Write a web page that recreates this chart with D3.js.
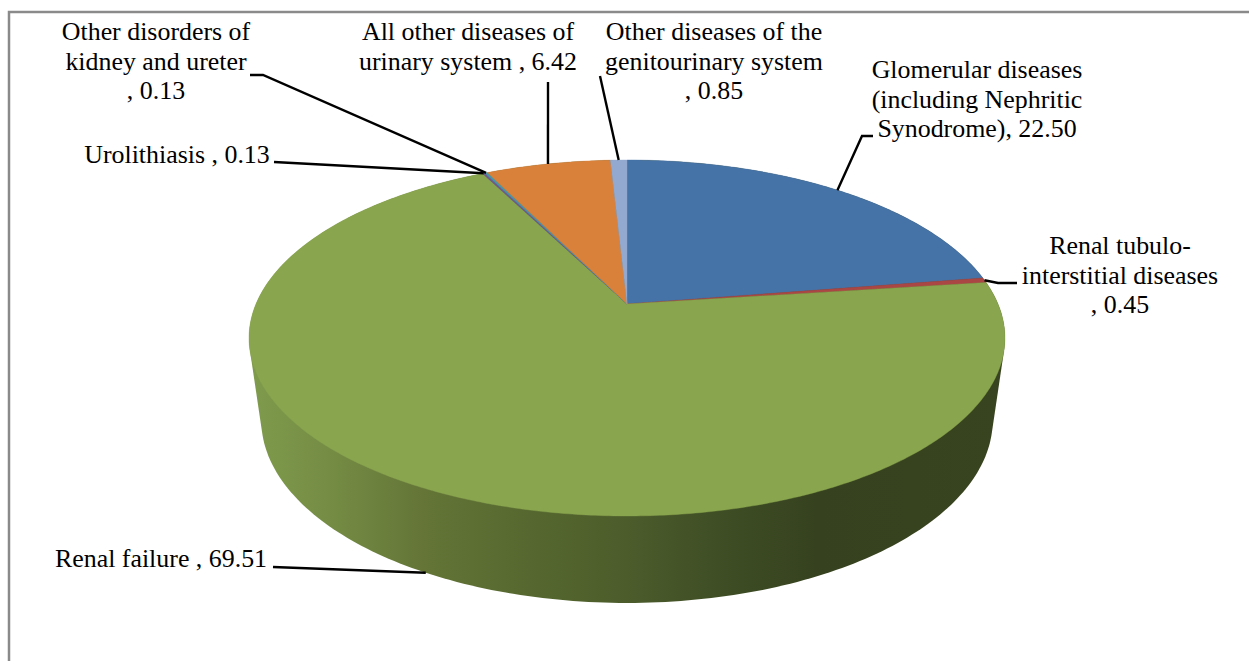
<!DOCTYPE html>
<html><head><meta charset="utf-8">
<script src="https://cdnjs.cloudflare.com/ajax/libs/d3/7.8.5/d3.min.js"></script>
<style>html,body{margin:0;padding:0;background:#fff}svg{display:block}
text{font-family:"Liberation Serif","Times New Roman",serif;font-size:25.9px;fill:#000;text-anchor:middle}</style>
</head><body><div id="c"></div>
<script>
const categories = ["Glomerular diseases (including Nephritic Synodrome)","Renal tubulo-interstitial diseases","Renal failure","Urolithiasis","Other disorders of kidney and ureter","All other diseases of urinary system","Other diseases of the genitourinary system"];
const values = [22.50,0.45,69.51,0.13,0.13,6.42,0.85];
const valueLabels = ["22.50","0.45","69.51","0.13","0.13","6.42","0.85"];
const colors = ["#4572a7","#aa4643","#89a54e","#71588f","#4198af","#d9803b","#93a9cf"];
const labelLines = [
  ["Glomerular diseases","(including Nephritic","Synodrome), "+valueLabels[0]],
  ["Renal tubulo-","interstitial diseases",", "+valueLabels[1]],
  ["Renal failure , "+valueLabels[2]],
  ["Urolithiasis , "+valueLabels[3]],
  ["Other disorders of","kidney and ureter",", "+valueLabels[4]],
  ["All other diseases of","urinary system , "+valueLabels[5]],
  ["Other diseases of the","genitourinary system",", "+valueLabels[6]]
];
// label layout: centre x, first baseline y; leader start points and which rim the leader meets
const labelLayout = [
  {x:977,y:78,path:[[873,136],[862,136]],ring:"top"},
  {x:1120,y:254,path:[[1017,283],[998,283]],ring:"top"},
  {x:161,y:567,path:[[273,567]],ring:"bottom"},
  {x:177,y:163,path:[[274,162]],ring:"top"},
  {x:156,y:40,path:[[250,75],[263,75]],ring:"top"},
  {x:468,y:40,path:[[548,82]],ring:"top"},
  {x:714,y:40,path:[[600,76]],ring:"top"}
];
const W=1249,H=661,lineH=29.5;
const cx=627,k=-0.191;
const rings={top:{a:371,b:171.5,y0:304},bottom:{a:359,b:176.3,y0:385}};
function project(angle,ringName){
  const r=rings[ringName],u=Math.sin(angle),v=-Math.cos(angle),d=1+k*v;
  return [cx+r.a*u/d,r.y0+r.b*v/d];
}
const svg=d3.select("#c").append("svg").attr("width",W).attr("height",H);
// frame
svg.append("path").attr("d",d3.line()([[9,H],[9,12],[W,12]])).attr("fill","none").attr("stroke","#8a8a8a").attr("stroke-width",2.5);
const defs=svg.append("defs");
const grad=defs.append("linearGradient").attr("id","wall").attr("gradientUnits","userSpaceOnUse")
  .attr("x1",249).attr("x2",1005).attr("y1",0).attr("y2",0);
[[0,"#7f9b4c"],[0.12,"#738a43"],[0.23,"#647537"],[0.37,"#56682f"],[0.5,"#4c5c2b"],[0.62,"#3f4e25"],[0.75,"#36421f"],[1,"#38431f"]]
  .forEach(s=>grad.append("stop").attr("offset",s[0]).attr("stop-color",s[1]));
// side wall: hull of both rims
const full=d3.range(0,Math.PI*2,Math.PI/180);
const hull=d3.polygonHull(full.flatMap(t=>[project(t,"top"),project(t,"bottom")]));
svg.append("path").attr("d",d3.line()(hull)+"Z").attr("fill","url(#wall)");
// top face
const arcs=d3.pie().sort(null).value(d=>d)(values);
const apex=[cx,rings.top.y0];
const line=d3.line();
svg.selectAll("path.slice").data(arcs).join("path").attr("class","slice")
  .attr("d",d=>{
    const n=Math.max(2,Math.ceil((d.endAngle-d.startAngle)/0.01));
    const pts=d3.range(n+1).map(i=>project(d.startAngle+(d.endAngle-d.startAngle)*i/n,"top"));
    return line([apex,...pts])+"Z";
  })
  .attr("fill",(d,i)=>colors[i]).attr("stroke",(d,i)=>colors[i]).attr("stroke-width",0.4);
// leaders
svg.selectAll("path.leader").data(arcs).join("path").attr("class","leader")
  .attr("d",(d,i)=>{
    const l=labelLayout[i];
    return line([...l.path,project((d.startAngle+d.endAngle)/2,l.ring)]);
  })
  .attr("fill","none").attr("stroke","#000").attr("stroke-width",2.4);
// labels
const t=svg.selectAll("text").data(categories).join("text")
  .attr("x",(d,i)=>labelLayout[i].x).attr("y",(d,i)=>labelLayout[i].y);
t.each(function(d,i){
  d3.select(this).selectAll("tspan").data(labelLines[i]).join("tspan")
    .attr("x",labelLayout[i].x).attr("y",(s,j)=>labelLayout[i].y+j*lineH).text(s=>s);
});
</script></body></html>
